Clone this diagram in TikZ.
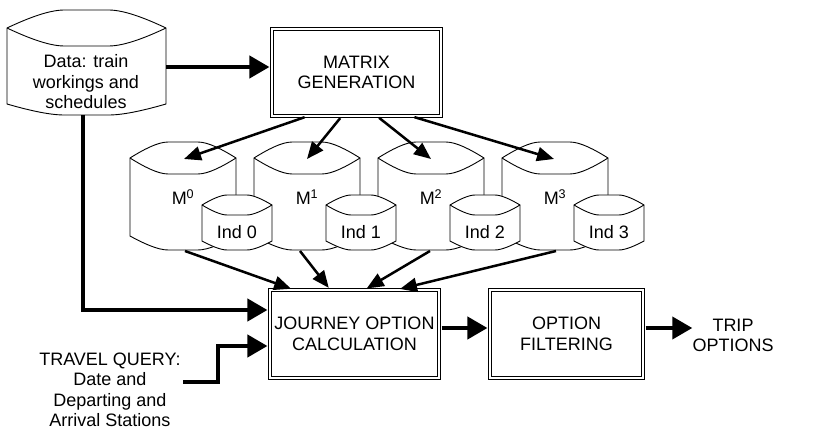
\documentclass[tikz,border=0pt]{standalone}
\usepackage{fontspec}
\setmainfont{Liberation Sans}
\usetikzlibrary{arrows.meta,calc}

% drum-shaped store: x0, x1, ytop (corner), ybot (corner), top bulge, bottom bulge
\newcommand\drum[6]{%
  \pgfmathsetmacro\dW{#2-#1}%
  \pgfmathsetmacro\dA{#1+0.36*\dW}%
  \pgfmathsetmacro\dB{#1+0.64*\dW}%
  \pgfmathsetmacro\dAc{#1+0.12*\dW}%
  \pgfmathsetmacro\dAd{#1+0.26*\dW}%
  \pgfmathsetmacro\dBc{#1+0.88*\dW}%
  \pgfmathsetmacro\dBd{#1+0.74*\dW}%
  \pgfmathsetmacro\dTu{#3-#5}%
  \pgfmathsetmacro\dTm{#3-0.5*#5}%
  \pgfmathsetmacro\dTd{#3+#5}%
  \pgfmathsetmacro\dTn{#3+0.5*#5}%
  \pgfmathsetmacro\dBo{#4+#6}%
  \pgfmathsetmacro\dBn{#4+0.5*#6}%
  \draw[drumline,fill=white] (#1,#3) .. controls (\dAc,\dTm) and (\dAd,\dTu) .. (\dA,\dTu)
    -- (\dB,\dTu) .. controls (\dBd,\dTu) and (\dBc,\dTm) .. (#2,#3)
    -- (#2,#4) .. controls (\dBc,\dBn) and (\dBd,\dBo) .. (\dB,\dBo)
    -- (\dA,\dBo) .. controls (\dAd,\dBo) and (\dAc,\dBn) .. (#1,#4) -- cycle;
  \draw[drumline] (#1,#3) .. controls (\dAc,\dTn) and (\dAd,\dTd) .. (\dA,\dTd)
    -- (\dB,\dTd) .. controls (\dBd,\dTd) and (\dBc,\dTn) .. (#2,#3);
}

\begin{document}
\begin{tikzpicture}[x=1pt,y=-1pt,
  txt/.style={font=\fontsize{18}{20.5}\selectfont, align=center, inner sep=0pt},
  dbox/.style={draw, double, double distance=1.8pt, line width=1.1pt, inner sep=0pt,
               align=center, font=\fontsize{18}{20.5}\selectfont},
  drumline/.style={line width=0.9pt, line join=round},
  bigarrow/.style={line width=4pt, -{Triangle[length=20pt,width=22pt]}},
  smallarrow/.style={line width=2.5pt, -{Triangle[length=17pt,width=14pt]}},
]
\useasboundingbox (0,0) rectangle (839,433);

% data store
\drum{7}{166}{28}{104}{18}{11}
\node[txt] (data) at (86,82) {Data: train\\workings and\\schedules};
\coordinate (data-e) at (166,67);
\coordinate (data-s) at (83,115);

% process boxes
\node[dbox, minimum width=169pt, minimum height=87pt] (mg) at (356.5,72.5) {MATRIX\\GENERATION};
\node[dbox, minimum width=169pt, minimum height=88pt] (joc) at (354.5,334) {JOURNEY OPTION\\CALCULATION};
\node[dbox, minimum width=153pt, minimum height=88pt] (of) at (566.5,334) {OPTION\\FILTERING};
\node[txt] (trip) at (733,335.5) {TRIP\\OPTIONS};
\node[txt] (tq) at (110,390) {TRAVEL QUERY:\\Date and\\Departing and\\Arrival Stations};

% matrices
\drum{130}{236}{158}{236}{16}{14}
\drum{254}{360}{158}{236}{16}{14}
\drum{378}{484}{158}{236}{16}{14}
\drum{502}{608}{158}{236}{16}{14}
% indices
\drum{202}{272}{205}{241}{10}{9}
\drum{326}{396}{205}{241}{10}{9}
\drum{450}{520}{205}{241}{10}{9}
\drum{574}{644}{205}{241}{10}{9}

\node[txt, anchor=base] (m0) at (183,204.5) {M\textsuperscript{0}};
\node[txt, anchor=base] (m1) at (307,204.5) {M\textsuperscript{1}};
\node[txt, anchor=base] (m2) at (431,204.5) {M\textsuperscript{2}};
\node[txt, anchor=base] (m3) at (555,204.5) {M\textsuperscript{3}};
\node[txt, anchor=base] (i0) at (237,238.5) {Ind 0};
\node[txt, anchor=base] (i1) at (361,238.5) {Ind 1};
\node[txt, anchor=base] (i2) at (485,238.5) {Ind 2};
\node[txt, anchor=base] (i3) at (609,238.5) {Ind 3};

\coordinate (mt0) at (184,159);
\coordinate (mt1) at (307,159);
\coordinate (mt2) at (431,159);
\coordinate (mt3) at (554,159);
\coordinate (mb0) at (185,251);
\coordinate (mb1) at (300,251);
\coordinate (mb2) at (430,251);
\coordinate (mb3) at (556,251);
\coordinate (tq-out) at (183,382);

% connectors
\draw[bigarrow, shorten >=2pt] (data-e) -- (data-e -| mg.west);
\draw[bigarrow, shorten >=2pt] (data-s) |- ([yshift=24pt]joc.west);
\draw[bigarrow, shorten >=2pt] (tq-out) -- ++(35,0) |- ([yshift=-12pt]joc.west);
\draw[bigarrow, shorten <=2pt, shorten >=2pt] ([yshift=6pt]joc.east) -- ([yshift=6pt]of.west);
\draw[bigarrow, shorten <=2pt] ([yshift=6pt]of.east) -- ([yshift=6pt]of.east -| trip.west);

\draw[smallarrow, shorten <=2pt] ([xshift=-50pt]mg.south) -- (mt0);
\draw[smallarrow, shorten <=2pt] ([xshift=-15pt]mg.south) -- (mt1);
\draw[smallarrow, shorten <=2pt] ([xshift=21pt]mg.south) -- (mt2);
\draw[smallarrow, shorten <=2pt] ([xshift=56pt]mg.south) -- (mt3);

\draw[smallarrow, shorten >=2pt] (mb0) -- ([xshift=-61.5pt]joc.north);
\draw[smallarrow, shorten >=2pt] (mb1) -- ([xshift=-24.5pt]joc.north);
\draw[smallarrow, shorten >=2pt] (mb2) -- ([xshift=10.5pt]joc.north);
\draw[smallarrow, shorten >=2pt] (mb3) -- ([xshift=43.5pt]joc.north);
\end{tikzpicture}
\end{document}
